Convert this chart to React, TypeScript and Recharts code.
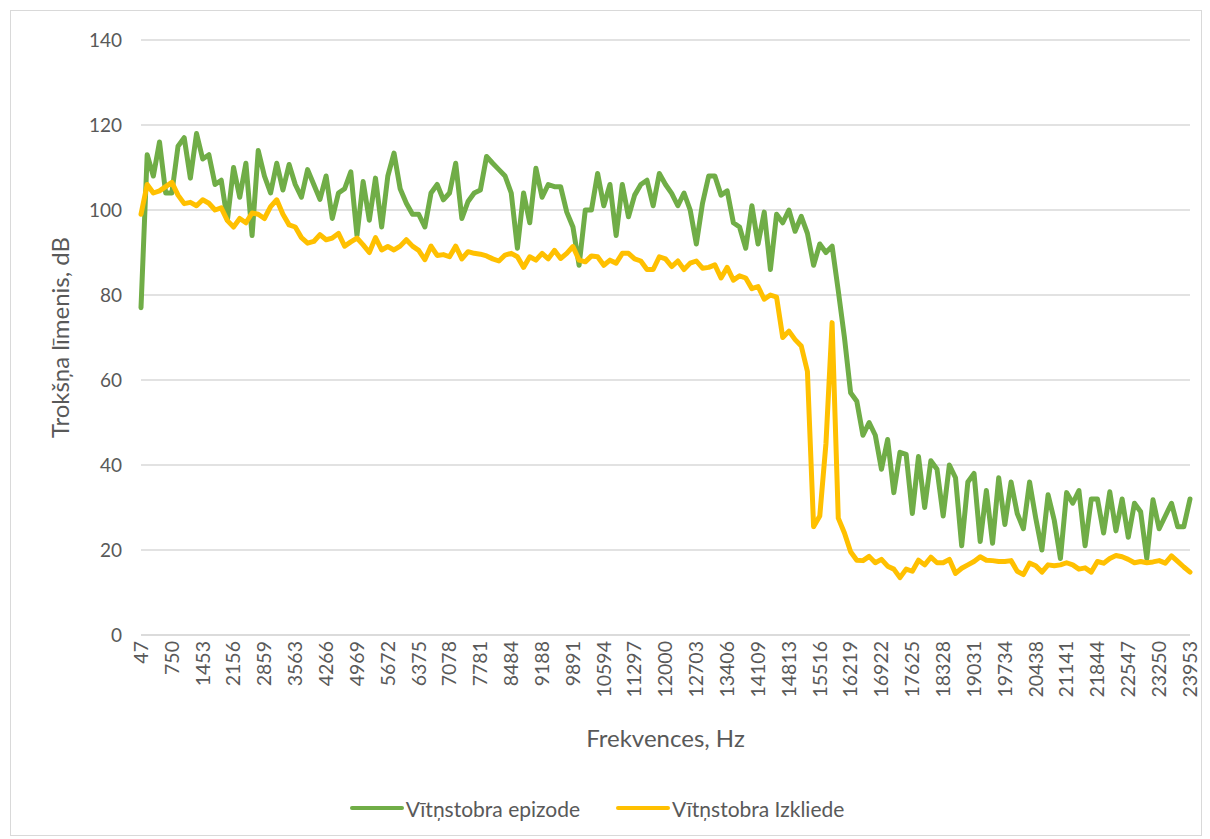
import React from "react";
import {
  CartesianGrid,
  Legend,
  Line,
  LineChart,
  XAxis,
  YAxis,
} from "recharts";

// FFT bins are 46.875 Hz wide; every 3rd bin is plotted (bin 0 .. bin 510)
const BIN_HZ = 46.875;
const BIN_STEP = 3;
const POINT_COUNT = 171;

const frequencies: number[] = Array.from({ length: POINT_COUNT }, (_, j) =>
  Math.round(BIN_HZ * (BIN_STEP * j + 1))
);

const episodeDb: number[] = [
  77, 113, 108, 116, 104, 104, 115, 117, 107.5, 118,
  112, 113, 106, 107, 97.6, 110, 103, 111, 94, 114,
  108, 104, 111, 104.7, 110.7, 106, 103, 109.5, 106, 102.5,
  108, 98, 104, 105, 109, 94, 106.7, 97.6, 107.5, 96,
  108, 113.4, 105, 101.6, 99, 99, 96, 104, 106, 102.4,
  104, 111, 98, 102, 104, 104.7, 112.6, 111, 109.5, 108,
  104, 91, 104, 97, 109.8, 103, 106, 105.5, 105.5, 99.5,
  96, 87, 100, 100, 108.6, 101, 106, 94, 106, 98.4,
  103.5, 106, 107, 101, 108.6, 106, 103.9, 101, 104, 100,
  92, 101.6, 108, 108, 103.5, 104.5, 97, 96, 91, 101,
  92, 99.5, 86, 99, 97, 100, 95, 98.5, 94.5, 87,
  92, 90, 91.5, 81, 70, 57, 55, 47, 50, 47,
  39, 46, 33.5, 43, 42.5, 28.6, 42, 30, 41, 39,
  28, 40, 37, 21, 36, 38, 22, 34, 21.6, 37,
  26, 36, 28.6, 25, 36, 27.5, 20, 33, 27, 18,
  33.5, 31, 34, 21, 32, 32, 24, 33.7, 24.5, 32,
  23, 31, 29, 18, 31.8, 25, 28, 31, 25.5, 25.5,
  32,
];

const scatterDb: number[] = [
  99, 106, 104, 104.5, 105.5, 106.5, 103.5, 101.5, 101.8, 101,
  102.4, 101.6, 100, 100.5, 97.5, 96, 98, 97, 99.3, 99,
  98, 100.8, 102.4, 99, 96.5, 96, 93.5, 92.2, 92.6, 94.2,
  93, 93.4, 94.5, 91.5, 92.5, 93.4, 91.8, 90, 93.5, 90.6,
  91.4, 90.6, 91.5, 93, 91.5, 90.5, 88.3, 91.5, 89.3, 89.5,
  89, 91.5, 88.5, 90.2, 89.8, 89.6, 89.2, 88.5, 88, 89.4,
  89.8, 89, 86.5, 89, 88.2, 89.8, 88.5, 90.5, 88.6, 89.8,
  91.4, 88.2, 87.8, 89.2, 89, 87, 88.2, 87.5, 89.8, 89.8,
  88.5, 88, 86, 86, 89, 88.5, 86.7, 88, 86, 87.5,
  88, 86.3, 86.5, 87.1, 84, 86.5, 83.5, 84.5, 84, 81.5,
  82, 79, 80, 79.5, 70, 71.5, 69.5, 68, 62, 25.5,
  28, 45, 73.5, 27.5, 24, 19.6, 17.6, 17.5, 18.5, 17,
  17.8, 16.2, 15.5, 13.5, 15.5, 15, 17.6, 16.5, 18.3, 17,
  17, 17.8, 14.5, 15.7, 16.5, 17.3, 18.4, 17.6, 17.5, 17.3,
  17.3, 17.5, 15, 14.2, 16.9, 16.3, 14.8, 16.5, 16.3, 16.5,
  17, 16.5, 15.5, 15.8, 14.8, 17.3, 16.9, 18, 18.7, 18.4,
  17.8, 17, 17.3, 17, 17.2, 17.5, 16.9, 18.6, 17.3, 16,
  14.8,
];

const yTicks = [0, 20, 40, 60, 80, 100, 120, 140];

const SERIES = [
  { key: "episode", name: "Vītņstobra epizode", color: "#70AD47" },
  { key: "scatter", name: "Vītņstobra Izkliede", color: "#FFC000" },
];

const data = frequencies.map((freq, i) => ({
  freq,
  episode: episodeDb[i],
  scatter: scatterDb[i],
}));

const FONT = "Lato, 'Open Sans', sans-serif";
const TEXT = "#595959";
const GRID = "#d9d9d9";

const FreqTick = (props: any) => {
  const { x, y, payload } = props;
  return (
    <g transform={`translate(${x},${y})`}>
      <text
        x={0}
        y={0}
        dy="0.35em"
        textAnchor="end"
        transform="rotate(-90)"
        fill={TEXT}
        fontSize={19.5}
        fontFamily={FONT}
      >
        {payload.value}
      </text>
    </g>
  );
};

const renderLegend = () => (
  <div
    style={{
      display: "flex",
      justifyContent: "center",
      alignItems: "center",
      height: 60,
      paddingTop: 6,
      paddingRight: 7,
      boxSizing: "border-box",
      fontFamily: FONT,
      fontSize: 21,
      color: TEXT,
    }}
  >
    {SERIES.map((s) => (
      <div
        key={s.key}
        style={{ display: "flex", alignItems: "center", margin: "0 18px" }}
      >
        <span
          style={{
            display: "inline-block",
            width: 54,
            height: 4,
            borderRadius: 2,
            background: s.color,
            marginRight: 2,
          }}
        />
        <span>{s.name}</span>
      </div>
    ))}
  </div>
);

export default function App() {
  return (
    <div
      style={{
        position: "absolute",
        left: 10,
        top: 10,
        width: 1190,
        height: 824,
        border: `1px solid ${GRID}`,
        background: "#fff",
      }}
    >
      <LineChart
        width={1190}
        height={824}
        data={data}
        margin={{ top: 29, right: 11, left: 0, bottom: 0 }}
      >
        <CartesianGrid vertical={false} stroke={GRID} strokeWidth={1.3} />
        <XAxis
          dataKey="freq"
          type="category"
          interval={4}
          height={140}
          tickLine={false}
          tickSize={0}
          tickMargin={6}
          axisLine={{ stroke: GRID, strokeWidth: 1.3 }}
          tick={<FreqTick />}
          label={{
            value: "Frekvences, Hz",
            position: "insideBottom",
            offset: 28,
            fill: TEXT,
            fontSize: 24,
            fontFamily: FONT,
          }}
        />
        <YAxis
          domain={[0, 140]}
          ticks={yTicks}
          width={130}
          axisLine={false}
          tickLine={false}
          tickSize={0}
          tickMargin={19}
          tick={{ fill: TEXT, fontSize: 19, fontFamily: FONT }}
          label={{
            value: "Trokšņa līmenis, dB",
            angle: -90,
            position: "insideLeft",
            offset: 49,
            fill: TEXT,
            fontSize: 24,
            fontFamily: FONT,
            style: { textAnchor: "middle" },
          }}
        />
        {SERIES.map((s) => (
          <Line
            key={s.key}
            dataKey={s.key}
            name={s.name}
            stroke={s.color}
            strokeWidth={5}
            strokeLinejoin="round"
            strokeLinecap="round"
            dot={false}
            activeDot={false}
            isAnimationActive={false}
          />
        ))}
        <Legend verticalAlign="bottom" content={renderLegend} />
      </LineChart>
    </div>
  );
}
